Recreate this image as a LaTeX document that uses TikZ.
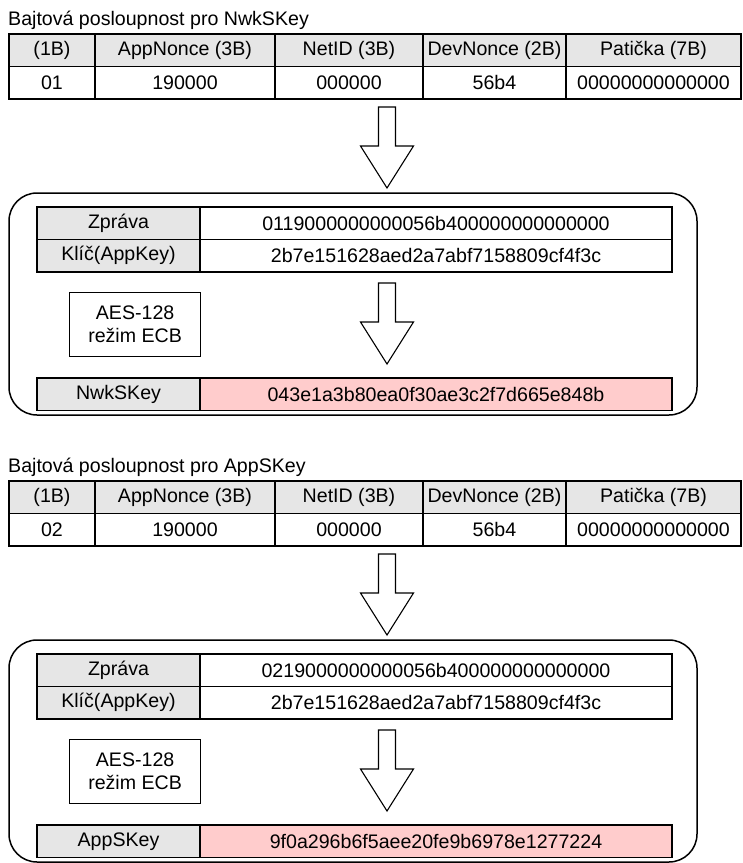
\documentclass[tikz,border=0pt]{standalone}
\usepackage{fontspec}
\setmainfont{Liberation Sans}
\usetikzlibrary{positioning}

\definecolor{hdrgrey}{RGB}{230,230,230}
\definecolor{keypink}{RGB}{255,204,204}

\begin{document}
\begin{tikzpicture}[x=1pt,y=-1pt,
            every node/.append style={black},
            txt/.style={font=\fontsize{19.6}{23}\selectfont},
            cell/.style={txt,draw,line width=1.2pt,inner sep=0pt,outer sep=0pt,
                anchor=north west,minimum height=32.5pt},
            hdr/.style={cell,fill=hdrgrey},
            blockarrow/.style={draw,fill=white,line width=1.1pt,line join=miter},
            frame/.style={draw,line width=1.5pt,rounded corners=28pt}
        ]
            \useasboundingbox (0,0) rectangle (743,863);
            \foreach \k/\yo/\what/\byte/\msg/\outval in {
                1/0/NwkSKey/01/0119000000000056b400000000000000/043e1a3b80ea0f30ae3c2f7d665e848b,
                2/447/AppSKey/02/0219000000000056b400000000000000/9f0a296b6f5aee20fe9b6978e1277224}{
                \begin{scope}[yshift=-\yo pt]
                    % byte sequence
                    \node[txt,anchor=base west,inner sep=0pt] (ttl\k) at (8,25) {Bajtová posloupnost pro \what};
                    \node[hdr,minimum width=86pt] (h\k a) at (9,34) {(1B)};
                    \node[hdr,minimum width=180pt,right=0pt of h\k a] (h\k b) {AppNonce (3B)};
                    \node[hdr,minimum width=148pt,right=0pt of h\k b] (h\k c) {NetID (3B)};
                    \node[hdr,minimum width=143pt,right=0pt of h\k c] (h\k d) {DevNonce (2B)};
                    \node[hdr,minimum width=175pt,right=0pt of h\k d] (h\k e) {Patička (7B)};
                    \node[cell,minimum width=86pt,below=0pt of h\k a] (v\k a) {\byte};
                    \node[cell,minimum width=180pt,right=0pt of v\k a] (v\k b) {190000};
                    \node[cell,minimum width=148pt,right=0pt of v\k b] (v\k c) {000000};
                    \node[cell,minimum width=143pt,right=0pt of v\k c] (v\k d) {56b4};
                    \node[cell,minimum width=175pt,right=0pt of v\k d] (v\k e) {00000000000000};
                    % into the cipher
                    \draw[blockarrow] (378.5,107) -- (395.5,107) -- (395.5,146) -- (413.5,146)
                        -- (387,188) -- (360.5,146) -- (378.5,146) -- cycle;
                    \draw[frame] (9,193) rectangle (697,415);
                    \node[hdr,minimum width=163pt] (zp\k) at (37,207) {Zpráva};
                    \node[cell,minimum width=472pt,right=0pt of zp\k] (zv\k) {\msg};
                    \node[hdr,minimum width=163pt,below=0pt of zp\k] (kl\k) {Klíč(AppKey)};
                    \node[cell,minimum width=472pt,right=0pt of kl\k] (kv\k) {2b7e151628aed2a7abf7158809cf4f3c};
                    \node[txt,draw,line width=1.2pt,anchor=north west,minimum width=131pt,
                        minimum height=64pt,align=center,inner sep=0pt] (aes\k) at (69,292) {AES-128\\režim ECB};
                    \draw[blockarrow] (378.5,283) -- (395.5,283) -- (395.5,322) -- (413.5,322)
                        -- (387,364) -- (360.5,322) -- (378.5,322) -- cycle;
                    \node[hdr,minimum width=163pt] (on\k) at (37,378) {\what};
                    \node[cell,minimum width=472pt,fill=keypink,right=0pt of on\k] (ov\k) {\outval};
                \end{scope}
            }
        \end{tikzpicture}
\end{document}
